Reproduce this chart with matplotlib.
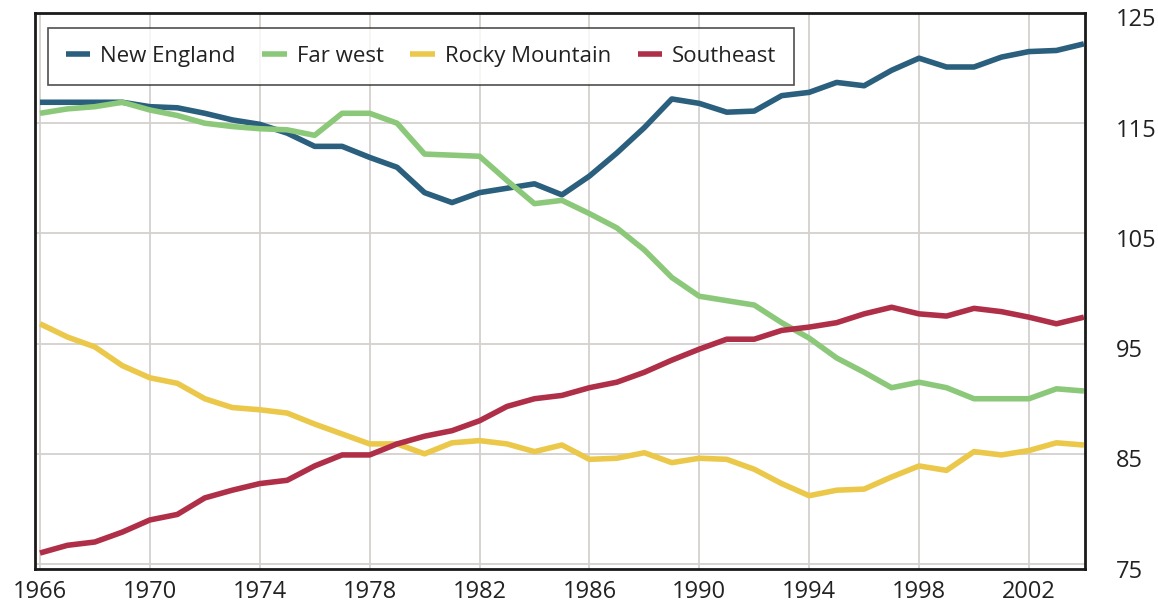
import matplotlib
matplotlib.use("Agg")
import matplotlib.pyplot as plt
import matplotlib.transforms as mtransforms

years = list(range(1966, 2005))

new_england = [116.9, 116.9, 116.9, 116.9, 116.5, 116.4, 115.9, 115.3, 114.9, 114.1,
               112.9, 112.9, 111.9, 111.0, 108.7, 107.8, 108.7, 109.1, 109.5, 108.5,
               110.2, 112.3, 114.6, 117.2, 116.8, 116.0, 116.1, 117.5, 117.8, 118.7,
               118.4, 119.8, 120.9, 120.1, 120.1, 121.0, 121.5, 121.6, 122.2]
far_west = [115.9, 116.3, 116.5, 116.9, 116.2, 115.7, 115.0, 114.7, 114.5, 114.4,
            113.9, 115.9, 115.9, 115.0, 112.2, 112.1, 112.0, 109.8, 107.7, 108.0,
            106.8, 105.5, 103.5, 101.0, 99.3, 98.9, 98.5, 96.9, 95.5, 93.7,
            92.4, 91.0, 91.5, 91.0, 90.0, 90.0, 90.0, 90.9, 90.7]
rocky_mountain = [96.8, 95.6, 94.7, 93.0, 91.9, 91.4, 90.0, 89.2, 89.0, 88.7,
                  87.7, 86.8, 85.9, 85.9, 85.0, 86.0, 86.2, 85.9, 85.2, 85.8,
                  84.5, 84.6, 85.1, 84.2, 84.6, 84.5, 83.6, 82.3, 81.2, 81.7,
                  81.8, 82.9, 83.9, 83.5, 85.2, 84.9, 85.3, 86.0, 85.8]
southeast = [76.0, 76.7, 77.0, 77.9, 79.0, 79.5, 81.0, 81.7, 82.3, 82.6,
             83.9, 84.9, 84.9, 85.9, 86.6, 87.1, 88.0, 89.3, 90.0, 90.3,
             91.0, 91.5, 92.4, 93.5, 94.5, 95.4, 95.4, 96.2, 96.5, 96.9,
             97.7, 98.3, 97.7, 97.5, 98.2, 97.9, 97.4, 96.8, 97.4]

series_names = ["New England", "Far west", "Rocky Mountain", "Southeast"]
series_values = [new_england, far_west, rocky_mountain, southeast]
series_colors = ["#2a5f7e", "#8cc87a", "#ebc84a", "#b02f48"]

x_ticks = list(range(1966, 2003, 4))
y_ticks = [75, 85, 95, 105, 115, 125]

plt.rcParams['font.family'] = ['Open Sans', 'DejaVu Sans']

W, H = 1158, 604
fig = plt.figure(figsize=(W / 100, H / 100), dpi=100)
ax = fig.add_axes([35 / W, 1 - 569 / H, (1085 - 35) / W, (569 - 13) / H])

for name, vals, col in zip(series_names, series_values, series_colors):
    ax.plot(years, vals, color=col, lw=4.0, label=name, solid_capstyle='butt',
            solid_joinstyle='round', zorder=3)

ax.set_xlim(1965.82, 2004.04)
ax.set_ylim(74.55, 125.0)
ax.set_xticks(x_ticks)
ax.set_yticks(y_ticks)
ax.grid(True, color="#d3d0cd", lw=1.3, zorder=0)
ax.yaxis.tick_right()
ax.tick_params(axis='both', length=0, labelsize=17, colors="#222222")
ax.tick_params(axis='y', pad=22)
ax.tick_params(axis='x', pad=8)
offset = mtransforms.ScaledTranslation(0, -4.5 / 100, fig.dpi_scale_trans)
for lbl in ax.get_yticklabels():
    lbl.set_transform(lbl.get_transform() + offset)
for s in ax.spines.values():
    s.set_linewidth(2)
    s.set_color("#1a1a1a")

leg = ax.legend(loc='upper left', bbox_to_anchor=(48 / W, 1 - 28 / H),
                bbox_transform=fig.transFigure, ncol=4, fontsize=16,
                frameon=True, fancybox=False, edgecolor="#222222",
                handlelength=1.1, handletextpad=0.45, columnspacing=1.2,
                borderpad=0.8, borderaxespad=0)
leg.get_frame().set_linewidth(1.2)
for t in leg.get_texts():
    t.set_color("#222222")

fig.savefig("out.png", dpi=100)
